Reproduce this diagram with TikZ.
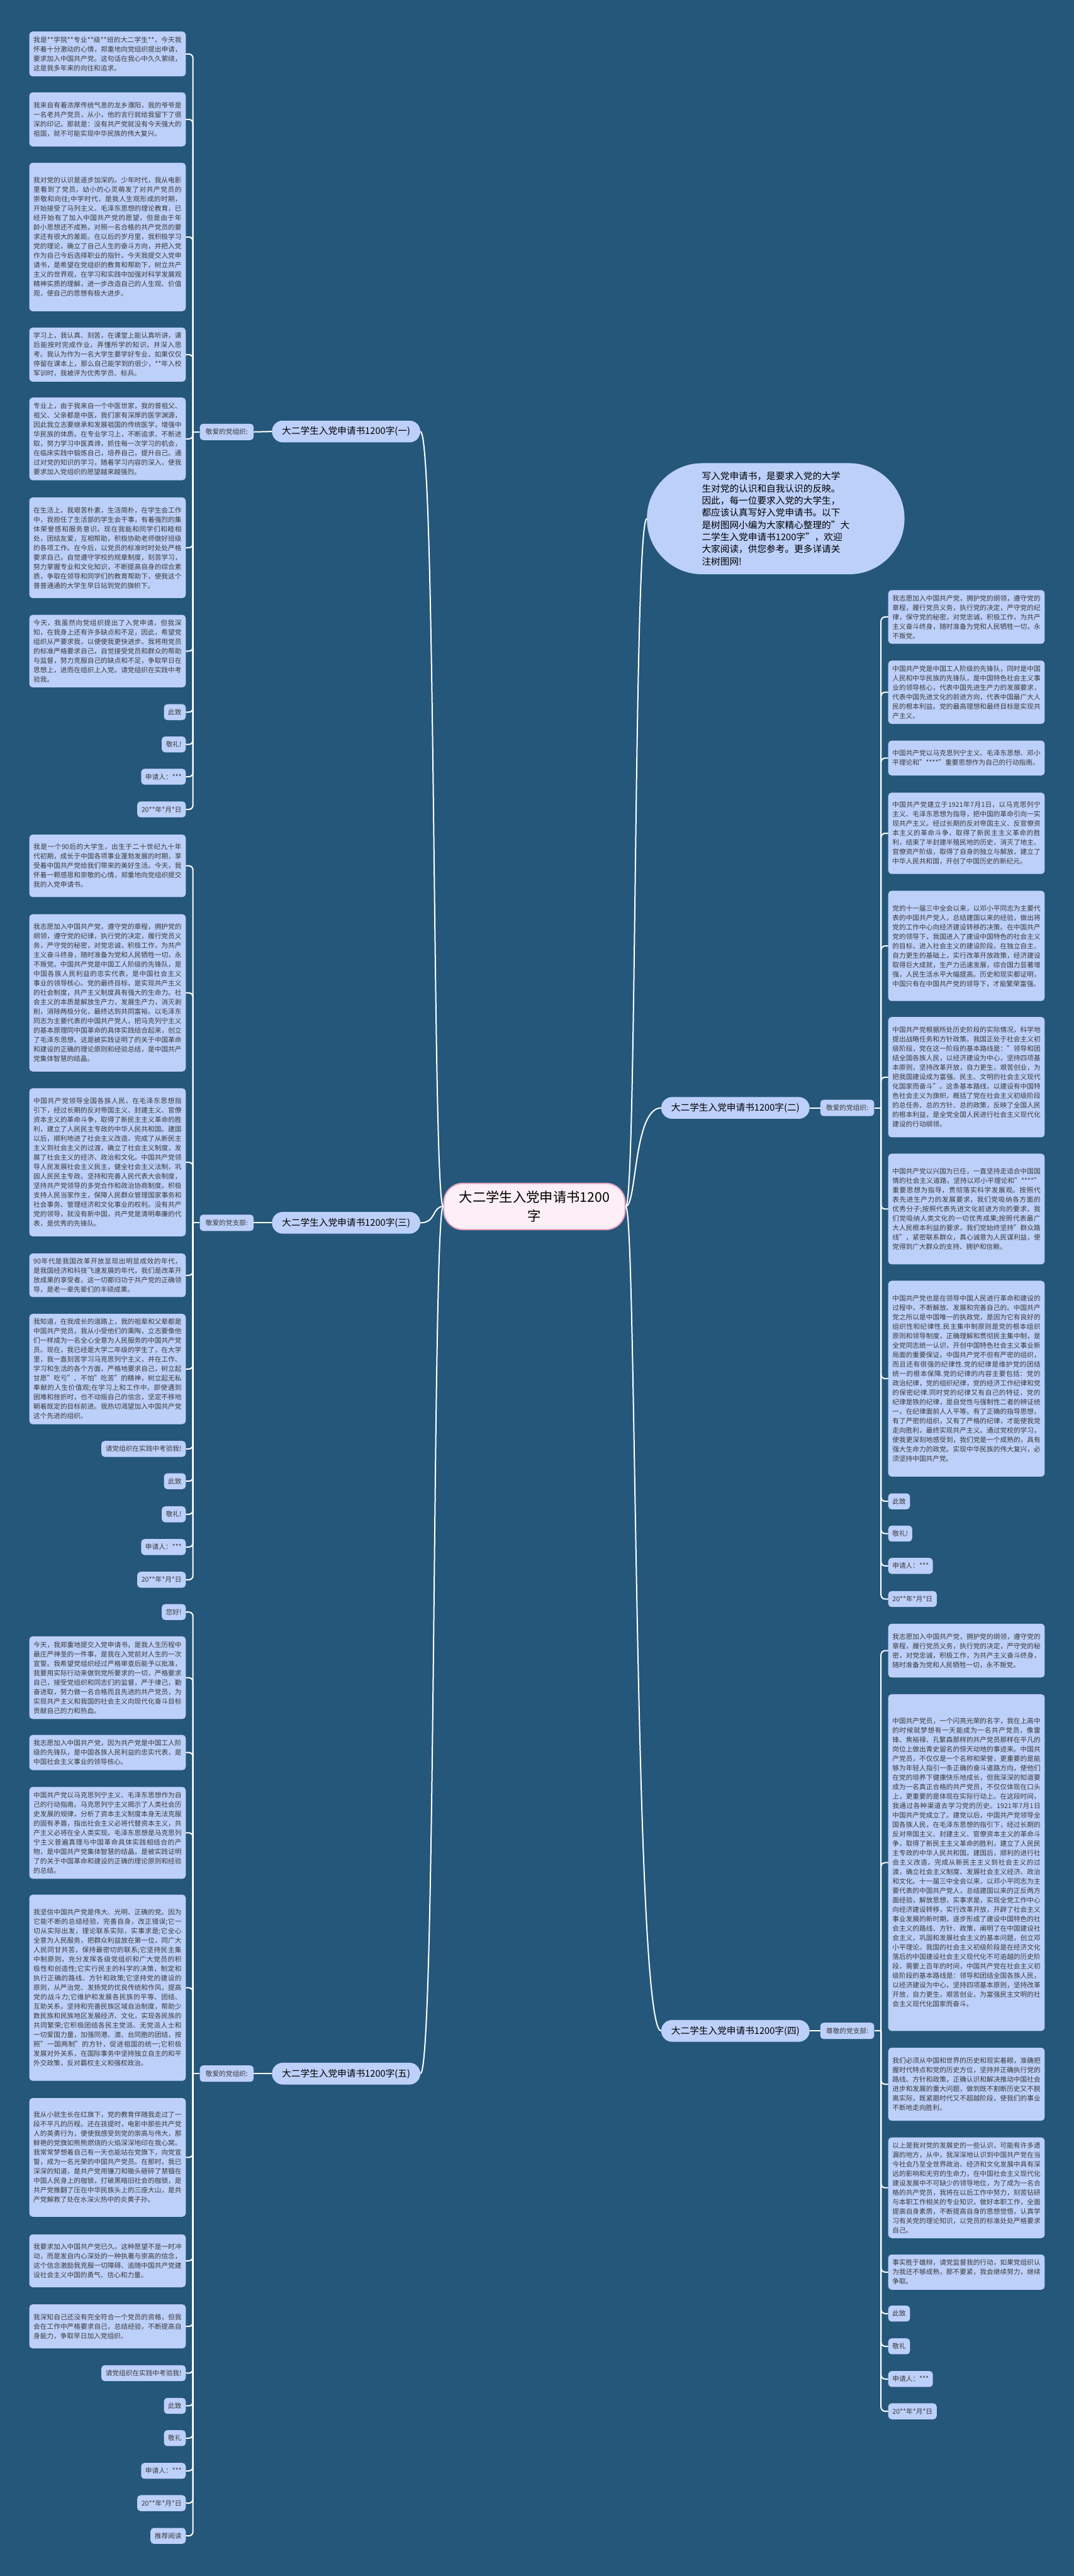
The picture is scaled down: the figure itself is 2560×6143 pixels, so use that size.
\documentclass[tikz,border=0pt]{standalone}
\usepackage{fontspec}
\setmainfont{Noto Sans CJK SC}
\XeTeXlinebreaklocale "zh"
\XeTeXlinebreakskip=0pt plus 1pt
\definecolor{bgblue}{HTML}{24577A}
\definecolor{boxblue}{HTML}{BDD0FA}
\definecolor{txtgray}{HTML}{3A3A3A}
\definecolor{rootfill}{HTML}{FCEFF5}
\definecolor{rootline}{HTML}{E8A3C4}
\tikzset{
  txtbox/.style={fill=boxblue, rounded corners=8pt, text=txtgray,
    font=\fontsize{16}{22.5}\selectfont, text width=353pt, align=justify,
    inner xsep=10pt, inner ysep=8pt},
  shortbox/.style={fill=boxblue, rounded corners=8pt, text=txtgray,
    font=\fontsize{16}{22.5}\selectfont, inner xsep=10pt, inner ysep=0pt,
    minimum height=38pt},
  labbox/.style={fill=boxblue, rounded corners=8pt, text=txtgray,
    font=\fontsize{16}{20}\selectfont, inner xsep=14pt, inner ysep=0pt,
    minimum height=39pt},
  pillnode/.style={fill=boxblue, rounded corners=26pt, text=black,
    font=\fontsize{22}{26}\selectfont, inner xsep=24pt, inner ysep=0pt,
    minimum height=52pt},
  rootnode/.style={fill=rootfill, draw=rootline, line width=3pt,
    rounded corners=45pt, text=black, font=\fontsize{32}{46}\selectfont,
    align=center, minimum width=432pt, minimum height=110pt},
  introbub/.style={fill=boxblue, rounded corners=132pt, text=black,
    font=\fontsize{22}{29}\selectfont, align=left,
    minimum width=614pt, minimum height=265pt},
  conn/.style={draw=white, line width=3pt, rounded corners=10pt},
  curv/.style={draw=white, line width=3pt}
}
\begin{document}
\begin{tikzpicture}[x=1pt,y=-1pt]
% background
\fill[bgblue] (0,0) rectangle (2560,6143);

% root, intro and branches
\node[rootnode] (root) at (1274,2877) {大二学生入党申请书1200\\字};
\node[introbub] (intro) at (1849,1237) {写入党申请书，是要求入党的大学\\生对党的认识和自我认识的反映。\\因此，每一位要求入党的大学生，\\都应该认真写好入党申请书。以下\\是树图网小编为大家精心整理的"大\\二学生入党申请书1200字"，欢迎\\大家阅读，供您参考。更多详请关\\注树图网!};
\node[pillnode, anchor=west] (pa) at (648,1029) {大二学生入党申请书1200字(一)};
\node[pillnode, anchor=west] (pc) at (648,2916) {大二学生入党申请书1200字(三)};
\node[pillnode, anchor=west] (pe) at (648,4945) {大二学生入党申请书1200字(五)};
\node[pillnode, anchor=east] (pb) at (1930,2642) {大二学生入党申请书1200字(二)};
\node[pillnode, anchor=east] (pd) at (1930,4843) {大二学生入党申请书1200字(四)};
\draw[curv] (root.west) .. controls (1030,2877) and (1040,1029) .. (pa.east);
\draw[curv] (root.west) .. controls (1030,2877) and (1040,2916) .. (pc.east);
\draw[curv] (root.west) .. controls (1030,2877) and (1040,4945) .. (pe.east);
\draw[curv] (root.east) .. controls (1518,2877) and (1510,1237) .. (intro.west);
\draw[curv] (root.east) .. controls (1518,2877) and (1510,2642) .. (pb.west);
\draw[curv] (root.east) .. controls (1518,2877) and (1510,4843) .. (pd.west);

% labels
\node[labbox, anchor=west] (la) at (476,1030) {敬爱的党组织:};
\node[labbox, anchor=west] (lc) at (476,2916) {敬爱的党支部:};
\node[labbox, anchor=west] (le) at (476,4945) {敬爱的党组织:};
\node[labbox, anchor=east] (lb) at (2084,2642) {敬爱的党组织:};
\node[labbox, anchor=east] (ld) at (2084,4843) {尊敬的党支部:};
\draw[curv] (la.east) -- (pa.west);
\draw[curv] (lc.east) -- (pc.west);
\draw[curv] (le.east) -- (pe.west);
\draw[curv] (pb.east) -- (lb.west);
\draw[curv] (pd.east) -- (ld.west);

% group one, left
\node[txtbox, anchor=north east, minimum height=107] (a1) at (443,75) {我是**学院**专业**级**班的大二学生**，今天我怀着十分激动的心情，郑重地向党组织提出申请，要求加入中国共产党。这句话在我心中久久萦绕，这是我多年来的向往和追求。};
\node[txtbox, anchor=north east, minimum height=129] (a2) at (443,220) {我来自有着浓厚传统气息的龙乡濮阳，我的爷爷是一名老共产党员，从小，他的言行就给我留下了很深的印记，那就是：没有共产党就没有今天强大的祖国，就不可能实现中华民族的伟大复兴。};
\node[txtbox, anchor=north east, minimum height=354] (a3) at (443,388) {我对党的认识是逐步加深的。少年时代，我从电影里看到了党员，幼小的心灵萌发了对共产党员的崇敬和向往;中学时代，是我人生观形成的时期，开始接受了马列主义、毛泽东思想的理论教育，已经开始有了加入中国共产党的愿望，但是由于年龄小思想还不成熟，对照一名合格的共产党员的要求还有很大的差距。在以后的岁月里，我积极学习党的理论，确立了自己人生的奋斗方向，并把入党作为自己今后选择职业的指针。今天我提交入党申请书，是希望在党组织的教育和帮助下，树立共产主义的世界观，在学习和实践中加强对科学发展观精神实质的理解，进一步改造自己的人生观、价值观，使自己的思想有极大进步。};
\node[txtbox, anchor=north east, minimum height=129] (a4) at (443,781) {学习上，我认真、刻苦，在课堂上能认真听讲，课后能按时完成作业，弄懂所学的知识，并深入思考。我认为作为一名大学生要学好专业，如果仅仅停留在课本上，那么自己能学到的很少，**年入校军训时，我被评为优秀学员、标兵。};
\node[txtbox, anchor=north east, minimum height=197] (a5) at (443,948) {专业上，由于我来自一个中医世家，我的曾祖父、祖父、父亲都是中医，我们家有深厚的医学渊源，因此我立志要继承和发展祖国的传统医学，增强中华民族的体质。在专业学习上，不断追求、不断进取，努力学习中医真谛，抓住每一次学习的机会，在临床实践中锻炼自己，培养自己，提升自己。通过对党的知识的学习，随着学习内容的深入，使我要求加入党组织的愿望越来越强烈。};
\node[txtbox, anchor=north east, minimum height=240] (a6) at (443,1186) {在生活上，我艰苦朴素，生活简朴，在学生会工作中，我担任了生活部的学生会干事，有着强烈的集体荣誉感和服务意识，现在我能和同学们和睦相处，团结友爱，互相帮助，积极协助老师做好班级的各项工作。在今后，以党员的标准时时处处严格要求自己，自觉遵守学校的规章制度，刻苦学习，努力掌握专业和文化知识，不断提高自身的综合素质，争取在领导和同学们的教育帮助下，使我这个普普通通的大学生早日站到党的旗帜下。};
\node[txtbox, anchor=north east, minimum height=173] (a7) at (443,1466) {今天，我虽然向党组织提出了入党申请，但我深知，在我身上还有许多缺点和不足，因此，希望党组织从严要求我，以便使我更快进步。我将用党员的标准严格要求自己，自觉接受党员和群众的帮助与监督，努力克服自己的缺点和不足，争取早日在思想上，进而在组织上入党。请党组织在实践中考验我。};
\node[shortbox, anchor=north east] (a8) at (443,1679) {此致};
\node[shortbox, anchor=north east] (a9) at (443,1756) {敬礼!};
\node[shortbox, anchor=north east] (a10) at (443,1833) {申请人：***};
\node[shortbox, anchor=north east] (a11) at (443,1911) {20**年*月*日};
\draw[conn] (la.west) -- ++(-16,0) coordinate (ja);
\foreach \n in {a1,a2,a3,a4,a5,a6,a7,a8,a9,a10,a11}
  \draw[conn] (ja) |- (\n.east);

% group three, left
\node[txtbox, anchor=north east, minimum height=149] (c1) at (443,1990) {我是一个90后的大学生，出生于二十世纪九十年代初期，成长于中国各项事业蓬勃发展的时期，享受着中国共产党给我们带来的美好生活。今天，我怀着一颗感恩和崇敬的心情，郑重地向党组织提交我的入党申请书。};
\node[txtbox, anchor=north east, minimum height=375] (c2) at (443,2180) {我志愿加入中国共产党，遵守党的章程，拥护党的纲领，遵守党的纪律，执行党的决定，履行党员义务，严守党的秘密，对党忠诚，积极工作，为共产主义奋斗终身，随时准备为党和人民牺牲一切，永不叛党。中国共产党是中国工人阶级的先锋队，是中国各族人民利益的忠实代表，是中国社会主义事业的领导核心。党的最终目标，是实现共产主义的社会制度，共产主义制度具有强大的生命力。社会主义的本质是解放生产力，发展生产力，消灭剥削，消除两极分化，最终达到共同富裕。以毛泽东同志为主要代表的中国共产党人，把马克列宁主义的基本原理同中国革命的具体实践结合起来，创立了毛泽东思想。这是被实践证明了的关于中国革命和建设的正确的理论原则和经验总结，是中国共产党集体智慧的结晶。};
\node[txtbox, anchor=north east, minimum height=353] (c3) at (443,2595) {中国共产党领导全国各族人民，在毛泽东思想指引下，经过长期的反对帝国主义、封建主义、官僚资本主义的革命斗争，取得了新民主主义革命的胜利，建立了人民民主专政的中华人民共和国。建国以后，顺利地进了社会主义改造，完成了从新民主主义到社会主义的过渡，确立了社会主义制度，发展了社会主义的经济、政治和文化。中国共产党领导人民发展社会主义民主，健全社会主义法制，巩固人民民主专政。坚持和完善人民代表大会制度，坚持共产党领导的多党合作和政治协商制度。积极支持人民当家作主，保障人民群众管理国家事务和社会事务、管理经济和文化事业的权利。没有共产党的领导，就没有新中国，共产党是清明奉廉的代表，是优秀的先锋队。};
\node[txtbox, anchor=north east, minimum height=104] (c4) at (443,2989) {90年代是我国改革开放显现出明显成效的年代，是我国经济和科技飞速发展的年代，我们是改革开放成果的享受者。这一切都归功于共产党的正确领导，是老一辈先辈们的丰硕成果。};
\node[txtbox, anchor=north east, minimum height=263] (c5) at (443,3133) {我知道，在我成长的道路上，我的祖辈和父辈都是中国共产党员，我从小受他们的熏陶，立志要像他们一样成为一名全心全意为人民服务的中国共产党员。现在，我已经是大学二年级的学生了，在大学里，我一直刻苦学习马克思列宁主义，并在工作、学习和生活的各个方面，严格地要求自己，树立起甘愿"吃亏"、不怕"吃苦"的精神，树立起无私奉献的人生价值观;在学习上和工作中，即使遇到困难和挫折时，也不动摇自己的信念，坚定不移地朝着既定的目标前进。我热切渴望加入中国共产党这个先进的组织。};
\node[shortbox, anchor=north east] (c6) at (443,3436) {请党组织在实践中考验我!};
\node[shortbox, anchor=north east] (c7) at (443,3513) {此致};
\node[shortbox, anchor=north east] (c8) at (443,3592) {敬礼!};
\node[shortbox, anchor=north east] (c9) at (443,3670) {申请人：***};
\node[shortbox, anchor=north east] (c10) at (443,3748) {20**年*月*日};
\draw[conn] (lc.west) -- ++(-16,0) coordinate (jc);
\foreach \n in {c1,c2,c3,c4,c5,c6,c7,c8,c9,c10}
  \draw[conn] (jc) |- (\n.east);

% group five, left
\node[shortbox, anchor=north east] (e1) at (443,3825) {您好!};
\node[txtbox, anchor=north east, minimum height=197] (e2) at (443,3902) {今天，我郑重地提交入党申请书，是我人生历程中最庄严神圣的一件事，是我在入党前对人生的一次宣誓。我希望党组织经过严格审查后能予以批准，我要用实际行动来做到党所要求的一切，严格要求自己，接受党组织和同志们的监督，严于律己，勤奋进取，努力做一名合格而且先进的共产党员，为实现共产主义和我国的社会主义向现代化奋斗目标贡献自己的力和热血。};
\node[txtbox, anchor=north east, minimum height=84] (e3) at (443,4137) {我志愿加入中国共产党，因为共产党是中国工人阶级的先锋队，是中国各族人民利益的忠实代表，是中国社会主义事业的领导核心。};
\node[txtbox, anchor=north east, minimum height=219] (e4) at (443,4261) {中国共产党以马克思列宁主义、毛泽东思想作为自己的行动指南。马克思列宁主义揭示了人类社会历史发展的规律，分析了资本主义制度本身无法克服的固有矛盾，指出社会主义必将代替资本主义，共产主义必将在全人类实现。毛泽东思想是马克思列宁主义普遍真理与中国革命具体实践相结合的产物，是中国共产党集体智慧的结晶，是被实践证明了的关于中国革命和建设的正确的理论原则和经验的总结。};
\node[txtbox, anchor=north east, minimum height=444] (e5) at (443,4518) {我坚信中国共产党是伟大、光明、正确的党。因为它能不断的总结经验，完善自身，改正错误;它一切从实际出发，理论联系实际，实事求是;它全心全意为人民服务，把群众利益放在第一位，同广大人民同甘共苦，保持最密切的联系;它坚持民主集中制原则，充分发挥各级党组织和广大党员的积极性和创造性;它实行民主的科学的决策，制定和执行正确的路线、方针和政策;它坚持党的建设的原则，从严治党、发扬党的优良传统和作风，提高党的战斗力;它维护和发展各民族的平等、团结、互助关系，坚持和完善民族区域自治制度，帮助少数民族和民族地区发展经济、文化，实现各民族的共同繁荣;它积极团结各民主党派、无党派人士和一切爱国力量，加强同港、澳、台同胞的团结，按照"一国两制"的方针，促进祖国的统一;它积极发展对外关系，在国际事务中坚持独立自主的和平外交政策，反对霸权主义和强权政治。};
\node[txtbox, anchor=north east, minimum height=283] (e6) at (443,5003) {我从小就生长在红旗下，党的教育伴随我走过了一段不平凡的历程。还在孩提时，电影中那些共产党人的英勇行为，便使我感受到党的崇高与伟大，那鲜艳的党旗如熊熊燃烧的火焰深深地印在我心窝。我常常梦想着自己有一天也能站在党旗下，向党宣誓，成为一名光荣的中国共产党员。在那时，我已深深的知道，是共产党用镰刀和锄头砸碎了禁锢在中国人民身上的枷锁，打破黑暗旧社会的枷锁，是共产党推翻了压在中华民族头上的三座大山，是共产党解救了处在水深火热中的炎黄子孙。};
\node[txtbox, anchor=north east, minimum height=126] (e7) at (443,5328) {我要求加入中国共产党已久。这种愿望不是一时冲动，而是发自内心深处的一种执著与崇高的信念，这个信念激励我克服一切障碍、追随中国共产党建设社会主义中国的勇气、信心和力量。};
\node[txtbox, anchor=north east, minimum height=105] (e8) at (443,5495) {我深知自己还没有完全符合一个党员的资格，但我会在工作中严格要求自己，总结经验，不断提高自身能力，争取早日加入党组织。};
\node[shortbox, anchor=north east] (e9) at (443,5640) {请党组织在实践中考验我!};
\node[shortbox, anchor=north east] (e10) at (443,5718) {此致};
\node[shortbox, anchor=north east] (e11) at (443,5795) {敬礼};
\node[shortbox, anchor=north east] (e12) at (443,5873) {申请人：***};
\node[shortbox, anchor=north east] (e13) at (443,5950) {20**年*月*日};
\node[shortbox, anchor=north east] (e14) at (443,6028) {推荐阅读};
\draw[conn] (le.west) -- ++(-16,0) coordinate (je);
\foreach \n in {e1,e2,e3,e4,e5,e6,e7,e8,e9,e10,e11,e12,e13,e14}
  \draw[conn] (je) |- (\n.east);

% group two, right
\node[txtbox, anchor=north west, minimum height=128] (b1) at (2117,1407) {我志愿加入中国共产党，拥护党的纲领，遵守党的章程，履行党员义务，执行党的决定，严守党的纪律，保守党的秘密，对党忠诚，积极工作，为共产主义奋斗终身，随时准备为党和人民牺牲一切，永不叛党。};
\node[txtbox, anchor=north west, minimum height=151] (b2) at (2117,1575) {中国共产党是中国工人阶级的先锋队，同时是中国人民和中华民族的先锋队，是中国特色社会主义事业的领导核心，代表中国先进生产力的发展要求，代表中国先进文化的前进方向，代表中国最广大人民的根本利益。党的最高理想和最终目标是实现共产主义。};
\node[txtbox, anchor=north west, minimum height=83] (b3) at (2117,1766) {中国共产党以马克思列宁主义、毛泽东思想、邓小平理论和"****"重要思想作为自己的行动指南。};
\node[txtbox, anchor=north west, minimum height=194] (b4) at (2117,1890) {中国共产党建立于1921年7月1日，以马克思列宁主义、毛泽东思想为指导，把中国的革命引向一实现共产主义。经过长期的反对帝国主义、反官僚资本主义的革命斗争，取得了新民主主义革命的胜利，结束了半封建半殖民地的历史，消灭了地主、官僚资产阶级，取得了自身的独立与解放，建立了中华人民共和国，开创了中国历史的新纪元。};
\node[txtbox, anchor=north west, minimum height=263] (b5) at (2117,2124) {党的十一届三中全会以来，以邓小平同志为主要代表的中国共产党人，总结建国以来的经验，做出将党的工作中心向经济建设转移的决策。在中国共产党的领导下，我国进入了建设中国特色的社会主义的目标，进入社会主义的建设阶段。在独立自主、自力更生的基础上，实行改革开放政策，经济建设取得巨大成就，生产力迅速发展，综合国力显著增强，人民生活水平大幅提高。历史和现实都证明，中国只有在中国共产党的领导下，才能繁荣富强。};
\node[txtbox, anchor=north west, minimum height=287] (b6) at (2117,2425) {中国共产党根据所处历史阶段的实际情况，科学地提出战略任务和方针政策。我国正处于社会主义初级阶段，党在这一阶段的基本路线是："领导和团结全国各族人民，以经济建设为中心，坚持四项基本原则，坚持改革开放，自力更生，艰苦创业，为把我国建设成为富强、民主、文明的社会主义现代化国家而奋斗"。这条基本路线，以建设有中国特色社会主义为旗帜，概括了党在社会主义初级阶段的总任务、总的方针、总的政策，反映了全国人民的根本利益，是全党全国人民进行社会主义现代化建设的行动纲领。};
\node[txtbox, anchor=north west, minimum height=264] (b7) at (2117,2751) {中国共产党以兴国为已任，一直坚持走适合中国国情的社会主义道路，坚持以邓小平理论和"****"重要思想为指导，贯彻落实科学发展观。按照代表先进生产力的发展要求，我们党吸纳各方面的优秀分子;按照代表先进文化前进方向的要求，我们党吸纳人类文化的一切优秀成果;按照代表最广大人民根本利益的要求，我们党始终坚持"群众路线"，紧密联系群众，真心诚意为人民谋利益，使党得到广大群众的支持、拥护和信赖。};
\node[txtbox, anchor=north west, minimum height=467] (b8) at (2117,3054) {中国共产党也是在领导中国人民进行革命和建设的过程中，不断解放、发展和完善自己的。中国共产党之所以是中国唯一的执政党，是因为它有良好的组织性和纪律性.民主集中制原则是党的根本组织原则和领导制度，正确理解和贯彻民主集中制，是全党同志统一认识，开创中国特色社会主义事业新局面的重要保证。中国共产党不但有严密的组织，而且还有很强的纪律性.党的纪律是维护党的团结统一的根本保障.党的纪律的内容主要包括：党的政治纪律，党的组织纪律，党的经济工作纪律和党的保密纪律.同时党的纪律又有自己的特征，党的纪律是铁的纪律，是自觉性与强制性二者的辨证统一，在纪律面前人人平等。有了正确的指导思想，有了严密的组织，又有了严格的纪律，才能使我党走向胜利，最终实现共产主义。通过党校的学习，使我更深刻地感受到，我们党是一个成熟的，具有强大生命力的政党。实现中华民族的伟大复兴，必须坚持中国共产党。};
\node[shortbox, anchor=north west] (b9) at (2117,3561) {此致};
\node[shortbox, anchor=north west] (b10) at (2117,3638) {敬礼!};
\node[shortbox, anchor=north west] (b11) at (2117,3715) {申请人：***};
\node[shortbox, anchor=north west] (b12) at (2117,3794) {20**年*月*日};
\draw[conn] (lb.east) -- ++(16,0) coordinate (jb);
\foreach \n in {b1,b2,b3,b4,b5,b6,b7,b8,b9,b10,b11,b12}
  \draw[conn] (jb) |- (\n.west);

% group four, right
\node[txtbox, anchor=north west, minimum height=128] (d1) at (2117,3872) {我志愿加入中国共产党，拥护党的纲领，遵守党的章程，履行党员义务，执行党的决定，严守党的秘密，对党忠诚，积极工作，为共产主义奋斗终身，随时准备为党和人民牺牲一切，永不叛党。};
\node[txtbox, anchor=north west, minimum height=803] (d2) at (2117,4040) {中国共产党员，一个闪亮光荣的名字，我在上高中的时候就梦想有一天能成为一名共产党员，像雷锋、焦裕禄、孔繁森那样的共产党员那样在平凡的岗位上做出青史留名的惊天动地的事迹来。中国共产党员，不仅仅是一个名称和荣誉，更重要的是能够为年轻人指引一条正确的奋斗道路方向，使他们在党的培养下健康快乐地成长，但我深深的知道要成为一名真正合格的共产党员，不仅仅体现在口头上，更重要的是体现在实际行动上。在这段时间，我通过各种渠道去学习党的历史。1921年7月1日中国共产党成立了。建党以后，中国共产党领导全国各族人民，在毛泽东思想的指引下，经过长期的反对帝国主义、封建主义、官僚资本主义的革命斗争，取得了新民主主义革命的胜利，建立了人民民主专政的中华人民共和国。建国后，顺利的进行社会主义改造，完成从新民主主义到社会主义的过渡，确立社会主义制度、发展社会主义经济、政治和文化。十一届三中全会以来，以邓小平同志为主要代表的中国共产党人，总结建国以来的正反两方面经验，解放思想，实事求是，实现全党工作中心向经济建设转移，实行改革开放，开辟了社会主义事业发展的新时期，逐步形成了建设中国特色的社会主义的路线、方针、政策，阐明了在中国建设社会主义，巩固和发展社会主义的基本问题，创立邓小平理论。我国的社会主义初级阶段是在经济文化落后的中国建设社会主义现代化不可逾越的历史阶段，需要上百年的时间，中国共产党在社会主义初级阶段的基本路线是：领导和团结全国各族人民，以经济建设为中心，坚持四项基本原则，坚持改革开放，自力更生，艰苦创业，为富强民主文明的社会主义现代化国家而奋斗。};
\node[txtbox, anchor=north west, minimum height=174] (d3) at (2117,4883) {我们必须从中国和世界的历史和现实着眼，准确把握时代特点和党的历史方位，坚持并正确执行党的路线、方针和政策，正确认识和解决推动中国社会进步和发展的重大问题，做到既不割断历史又不脱离实际，既紧跟时代又不超越阶段，使我们的事业不断地走向胜利。};
\node[txtbox, anchor=north west, minimum height=240] (d4) at (2117,5097) {以上是我对党的发展史的一些认识，可能有许多遗漏的地方，从中，我深深地认识到中国共产党在当今社会乃至全世界政治、经济和文化发展中具有深远的影响和无穷的生命力，在中国社会主义现代化建设发展中不可缺少的领导地位，为了成为一名合格的共产党员，我将在以后工作中努力，刻苦钻研与本职工作相关的专业知识，做好本职工作，全面提高自身素质，不断提高自身的思想觉悟，认真学习有关党的理论知识，以党员的标准处处严格要求自己。};
\node[txtbox, anchor=north west, minimum height=84] (d5) at (2117,5376) {事实胜于雄辩，请党监督我的行动，如果党组织认为我还不够成熟，那不要紧，我会继续努力，继续争取。};
\node[shortbox, anchor=north west] (d6) at (2117,5498) {此致};
\node[shortbox, anchor=north west] (d7) at (2117,5576) {敬礼};
\node[shortbox, anchor=north west] (d8) at (2117,5654) {申请人：***};
\node[shortbox, anchor=north west] (d9) at (2117,5731) {20**年*月*日};
\draw[conn] (ld.east) -- ++(16,0) coordinate (jd);
\foreach \n in {d1,d2,d3,d4,d5,d6,d7,d8,d9}
  \draw[conn] (jd) |- (\n.west);
\end{tikzpicture}
\end{document}
